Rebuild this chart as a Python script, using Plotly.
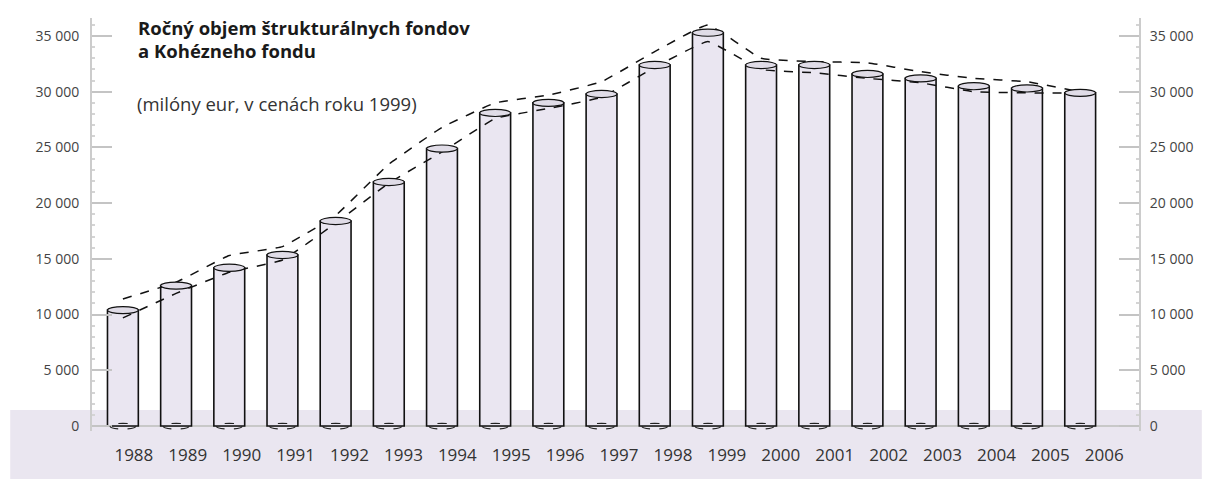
import plotly.graph_objects as go

# ---- data ----
years = ["1988", "1989", "1990", "1991", "1992", "1993", "1994", "1995", "1996", "1997",
         "1998", "1999", "2000", "2001", "2002", "2003", "2004", "2005", "2006"]
values = [10400, 12600, 14200, 15350, 18400, 21900, 24900, 28100, 29000, 29800,
          32400, 35300, 32400, 32400, 31600, 31200, 30500, 30300, 29900]
upper_line = [11400, 12900, 15300, 16100, 18900, 23500, 26800, 29000, 29700, 30900,
              33600, 36000, 33000, 32700, 32600, 31800, 31200, 30900, 30000]
lower_line = [9700, 11900, 13800, 14900, 18200, 21800, 24600, 27600, 28500, 29500,
              32200, 34500, 32000, 31700, 31200, 30800, 30000, 29900, 29900]
y_ticks = [0, 5000, 10000, 15000, 20000, 25000, 30000, 35000]
y_tick_text = ["0", "5 000", "10 000", "15 000", "20 000", "25 000", "30 000", "35 000"]
title_lines = ["Ročný objem štrukturálnych fondov", "a Kohézneho fondu"]
subtitle = "(milóny eur, v cenách roku 1999)"

n = len(values)
xs = list(range(n))
# tick labels in the original drift slightly to the right of the bars
label_pos = [0.206 + i * 1.0137 for i in range(len(years))]

BAR_W = 0.58
FILL = "#EAE6F1"
TOP_FILL = "#E0DCE7"
Y_MIN, Y_MAX = -450, 36620
ELL_H = 320  # half height of top ellipse in data units

# plot-area geometry in pixels
W, H = 1205, 479
L, R, T, B = 92, 63, 18, 48
PW, PH = W - L - R, H - T - B
BOTTOM = H - B


def px(xp):
    return (xp - L) / PW


def py(yp):
    return (BOTTOM - yp) / PH


fig = go.Figure()

fig.add_trace(go.Bar(
    x=xs, y=values, width=BAR_W,
    marker=dict(color=FILL, line=dict(color="#111111", width=1.6)),
    hoverinfo="skip", showlegend=False,
))

for line_vals in (upper_line, lower_line):
    fig.add_trace(go.Scatter(
        x=xs, y=line_vals, mode="lines",
        line=dict(color="#111111", width=1.5, dash="dash", shape="spline", smoothing=0.3),
        showlegend=False, hoverinfo="skip",
    ))
# invisible trace for right axis
fig.add_trace(go.Scatter(x=[xs[0]], y=[values[0]], yaxis="y2", mode="markers",
                         marker=dict(opacity=0), showlegend=False, hoverinfo="skip"))

shapes = []
# bottom band
shapes.append(dict(type="rect", xref="paper", yref="paper",
                   x0=px(10), x1=px(1205), y0=py(479), y1=py(410),
                   fillcolor="#EAE6F0", line=dict(width=0), layer="below"))
for i, v in zip(xs, values):
    # top ellipse
    shapes.append(dict(type="circle", xref="x", yref="y",
                       x0=i - BAR_W / 2, x1=i + BAR_W / 2,
                       y0=v - ELL_H, y1=v + ELL_H,
                       fillcolor=TOP_FILL, line=dict(color="#111111", width=1.2),
                       layer="above"))
    # base ellipse
    shapes.append(dict(type="circle", xref="x", yref="y",
                       x0=i - 0.24, x1=i + 0.24,
                       y0=-280, y1=240,
                       fillcolor="rgba(0,0,0,0)", line=dict(color="#222222", width=1.2, dash="dash"),
                       layer="above"))

annotations = [
    dict(text="<b>" + title_lines[0] + "</b>", xref="paper", yref="paper",
         x=px(136), y=py(27), xanchor="left", yanchor="middle",
         showarrow=False, font=dict(family="Open Sans", size=18.5, color="#1a1a1a")),
    dict(text="<b>" + title_lines[1] + "</b>", xref="paper", yref="paper",
         x=px(136), y=py(51), xanchor="left", yanchor="middle",
         showarrow=False, font=dict(family="Open Sans", size=18.5, color="#1a1a1a")),
    dict(text=subtitle, xref="paper", yref="paper",
         x=px(135), y=py(104), xanchor="left", yanchor="middle",
         showarrow=False, font=dict(family="Open Sans", size=18.5, color="#333333")),
]

axis_common = dict(
    range=[Y_MIN, Y_MAX], tickvals=y_ticks, ticktext=y_tick_text,
    showgrid=False, zeroline=True, zerolinecolor="#c8c8c8", zerolinewidth=2,
    showline=True, linecolor="#cccccc", linewidth=2,
    ticks="inside", ticklen=20, tickcolor="#c4c4c4", tickwidth=1.5,
    tickfont=dict(family="Open Sans", size=14, color="#444444"),
    minor=dict(ticks="inside", ticklen=3, tickcolor="#d4d4d4", dtick=1000),
)

fig.update_layout(
    width=W, height=H,
    margin=dict(l=L, r=R, t=T, b=B, pad=0),
    paper_bgcolor="white", plot_bgcolor="rgba(0,0,0,0)",
    xaxis=dict(range=[-0.581, 19.106], tickvals=label_pos, ticktext=years,
               showgrid=False, zeroline=False, showline=False,
               ticks="", ticklabelstandoff=12,
               tickfont=dict(family="Open Sans", size=17, color="#333333")),
    yaxis=dict(side="left", ticklabelstandoff=8, **axis_common),
    yaxis2=dict(side="right", overlaying="y", ticklabelstandoff=6, **axis_common),
    shapes=shapes, annotations=annotations,
)

fig.write_html("out.html")
